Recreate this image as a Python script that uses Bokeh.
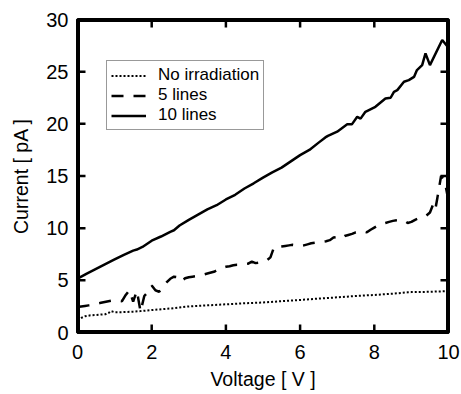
import math
from bokeh.plotting import figure
from bokeh.models import Range1d, FixedTicker
from bokeh.embed import file_html
from bokeh.resources import INLINE

# ---------------- data ----------------
x_ticks = [0, 2, 4, 6, 8, 10]
y_ticks = [0, 5, 10, 15, 20, 25, 30]

none_x = [0.0, 0.1, 0.2, 0.35, 0.5, 0.75, 0.85, 0.9, 1.0, 1.2, 1.5, 1.7, 2.0, 2.5, 3.0,
          3.5, 4.0, 4.5, 5.0, 5.5, 6.0, 6.5, 7.0, 7.5, 8.0, 8.5, 8.9, 9.0, 9.5, 10.0]
none_y = [1.2, 1.4, 1.55, 1.65, 1.68, 1.75, 1.9, 2.05, 1.95, 1.95, 2.0, 2.05, 2.15, 2.3, 2.5,
          2.6, 2.7, 2.8, 2.88, 3.0, 3.12, 3.25, 3.37, 3.5, 3.6, 3.72, 3.85, 3.87, 3.9, 3.97]

five_x = [0.0, 0.1, 0.2, 0.3, 0.4, 0.5, 0.6, 0.7, 0.8, 0.9, 1.0, 1.1, 1.2, 1.3, 1.4, 1.5,
          1.6, 1.7, 1.8, 1.9, 2.0, 2.1, 2.2, 2.3, 2.4, 2.5, 2.6, 2.7, 2.8, 2.9, 3.0, 3.1,
          3.2, 3.3, 3.4, 3.5, 3.6, 3.7, 3.8, 3.9, 4.0, 4.1, 4.2, 4.3, 4.4, 4.5, 4.6, 4.7,
          4.8, 4.9, 5.0, 5.1, 5.2, 5.3, 5.4, 5.5, 5.6, 5.7, 5.8, 5.9, 6.0, 6.1, 6.2, 6.3,
          6.4, 6.5, 6.6, 6.7, 6.8, 6.9, 7.0, 7.1, 7.2, 7.3, 7.4, 7.5, 7.6, 7.7, 7.8, 7.9,
          8.0, 8.1, 8.2, 8.3, 8.4, 8.5, 8.6, 8.7, 8.8, 8.9, 9.0, 9.1, 9.2, 9.3, 9.4, 9.5,
          9.6, 9.65, 9.7, 9.8, 9.9, 10.0]
five_y = [2.45, 2.5, 2.55, 2.6, 2.65, 2.75, 2.82, 2.9, 2.98, 3.05, 3.1, 3.05, 3.0, 3.6, 4.05, 2.95,
          4.0, 2.0, 3.5, 3.9, 4.5, 4.05, 3.9, 4.4, 4.8, 5.15, 5.35, 5.3, 4.9, 5.2, 5.3, 5.35,
          5.4, 5.45, 5.55, 5.65, 5.75, 5.85, 6.05, 6.2, 6.3, 6.35, 6.45, 6.5, 6.5, 6.55, 6.6, 6.8,
          6.65, 6.7, 6.75, 6.9, 7.2, 8.2, 8.2, 8.25, 8.3, 8.35, 8.4, 8.35, 8.3, 8.35, 8.45, 8.55,
          8.6, 8.65, 8.7, 8.75, 8.85, 9.1, 9.15, 9.0, 9.25, 9.35, 9.45, 9.6, 9.65, 9.7, 9.6, 9.85,
          10.05, 10.25, 10.4, 10.5, 10.6, 10.7, 10.75, 10.8, 10.75, 10.5, 10.6, 10.8, 10.95, 11.1, 11.2, 11.5,
          12.4, 11.9, 12.9, 15.0, 14.5, 12.6]

ten_x = [0.0, 0.25, 0.5, 0.75, 1.0, 1.25, 1.5, 1.6, 1.75, 2.0, 2.25, 2.5, 2.6, 2.75, 3.0,
         3.25, 3.5, 3.75, 4.0, 4.25, 4.5, 4.75, 5.0, 5.25, 5.5, 5.75, 6.0, 6.25, 6.5, 6.68,
         6.75, 7.0, 7.27, 7.4, 7.54, 7.63, 7.76, 8.03, 8.3, 8.44, 8.53, 8.62, 8.8, 8.93, 9.07,
         9.15, 9.29, 9.38, 9.5, 9.83, 10.0]
ten_y = [5.15, 5.65, 6.1, 6.55, 7.0, 7.45, 7.85, 7.95, 8.2, 8.8, 9.2, 9.65, 9.8, 10.25, 10.8,
         11.3, 11.8, 12.2, 12.75, 13.2, 13.8, 14.3, 14.85, 15.35, 15.8, 16.4, 17.0, 17.5, 18.2, 18.7,
         18.85, 19.25, 19.95, 19.97, 20.67, 20.5, 21.15, 21.63, 22.43, 22.5, 23.07, 23.23, 24.03, 24.19, 24.5,
         25.15, 25.63, 26.75, 25.63, 28.03, 27.3]

FONT = "Liberation Sans"
X0, X1 = x_ticks[0], x_ticks[-1]
Y0, Y1 = y_ticks[0], y_ticks[-1]

FRAME_W, FRAME_H = 371, 313          # frame size in px
TICK_PX = 8                          # inward tick length in px
tick_dx = TICK_PX * (X1 - X0) / FRAME_W
tick_dy = TICK_PX * (Y1 - Y0) / FRAME_H
NAN = math.nan

p = figure(width=461, height=394, output_backend="svg", toolbar_location=None,
           x_range=Range1d(X0, X1), y_range=Range1d(Y0, Y1),
           min_border_left=77, min_border_right=13, min_border_top=19, min_border_bottom=62)
p.outline_line_color = "black"
p.outline_line_width = 3
p.xgrid.grid_line_color = None
p.ygrid.grid_line_color = None

# frame drawn as one closed polyline (same glyph type as the data lines)
p.line([X0, X1, X1, X0, X0], [Y0, Y0, Y1, Y1, Y0], line_color="black", line_width=5,
       line_join="miter")

# inward ticks on all four sides as one broken polyline
tx, ty = [], []
for t in x_ticks:
    tx += [t, t, NAN, t, t, NAN]
    ty += [Y0, Y0 + tick_dy, NAN, Y1, Y1 - tick_dy, NAN]
for t in y_ticks:
    tx += [X0, X0 + tick_dx, NAN, X1, X1 - tick_dx, NAN]
    ty += [t, t, NAN, t, t, NAN]
p.line(tx, ty, line_color="black", line_width=2.5)

p.line(none_x, none_y, line_color="black", line_width=2, line_dash="2 2",
       legend_label="No irradiation")
p.line(five_x, five_y, line_color="black", line_width=2.5, line_dash="12 10",
       legend_label="5 lines")
p.line(ten_x, ten_y, line_color="black", line_width=2.5, legend_label="10 lines")

xa = p.xaxis[0]
ya = p.yaxis[0]
xa.ticker = FixedTicker(ticks=x_ticks)
ya.ticker = FixedTicker(ticks=y_ticks)
for ax in (xa, ya):
    ax.axis_line_width = 3
    ax.axis_line_color = "black"
    ax.major_tick_line_color = None
    ax.major_tick_in = 0
    ax.major_tick_out = 0
    ax.minor_tick_line_color = None
    ax.major_label_text_font = FONT
    ax.major_label_text_color = "black"
    ax.major_label_text_font_size = "20px"
    ax.axis_label_text_font = FONT
    ax.axis_label_text_font_size = "19.5px"
    ax.axis_label_text_font_style = "normal"
    ax.axis_label_text_color = "black"
xa.major_label_standoff = 12
ya.major_label_standoff = 9
xa.axis_label = "Voltage [ V ]"
ya.axis_label = "Current [ pA ]"
xa.axis_label_standoff = 6
ya.axis_label_standoff = 11

lg = p.legend[0]
lg.location = (29, 202)
lg.padding = 4
lg.spacing = 0
lg.margin = 0
lg.label_standoff = 12
lg.glyph_width = 35
lg.glyph_height = 19
lg.label_height = 19
lg.label_text_font = FONT
lg.label_text_font_size = "17px"
lg.label_text_color = "black"
lg.border_line_color = "#333333"
lg.border_line_width = 1
lg.background_fill_color = "white"
lg.background_fill_alpha = 1.0

open("out.html", "w").write(file_html(p, INLINE))
